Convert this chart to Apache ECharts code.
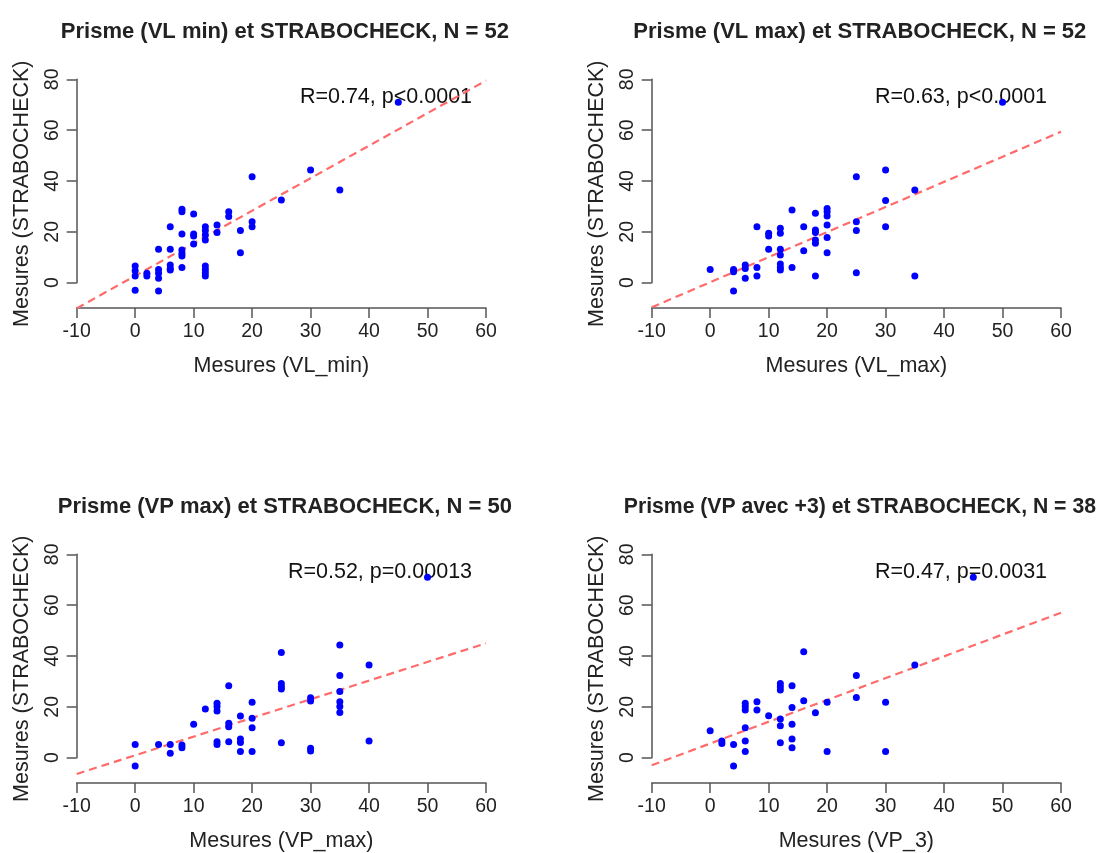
<!DOCTYPE html>
<html>
<head>
<meta charset="utf-8">
<script src="https://cdn.jsdelivr.net/npm/echarts@6/dist/echarts.min.js"></script>
<style>
html,body{margin:0;padding:0;background:#fff;}
#chart{width:1102px;height:853px;}
</style>
</head>
<body>
<div id="chart"></div>
<script>
// ---------- DATA ----------
const titles = [
  'Prisme (VL min) et STRABOCHECK, N = 52',
  'Prisme (VL max) et STRABOCHECK, N = 52',
  'Prisme (VP max) et STRABOCHECK, N = 50',
  'Prisme (VP avec +3) et STRABOCHECK, N = 38'
];
const xNames = ['Mesures (VL_min)', 'Mesures (VL_max)', 'Mesures (VP_max)', 'Mesures (VP_3)'];
const yName = 'Mesures (STRABOCHECK)';
const annotations = ['R=0.74, p<0.0001', 'R=0.63, p<0.0001', 'R=0.52, p=0.00013', 'R=0.47, p=0.0031'];
const annotationPos = [57.7, 73.2];

const xTicks = {min: -10, max: 60, step: 10};
const yTicks = {min: 0, max: 80, step: 20};
const yRange = {min: -10, max: 80};

const vlMinX = [0,0,0,0, 2,2, 4,4,4,4,4, 6,6,6,6,6, 8,8,8,8,8,8,8, 10,10,10,10, 12,12,12,12,12,12,12,12, 14,14, 16,16, 18,18, 20,20,20, 25, 30, 35, 45];
const vlMinY = [-3,6.6,4.7,2.6, 3.7,2.6, 5.2,3.7,1.7,-3.3,13.1, 13.1,22,7,5.6,5, 28.9,27.9,19.1,12.9,11.5,10.5,6, 27,19.1,18.4,15.2, 22,20.5,18.8,16.8,6.6,5.2,3.9,2.6, 22.7,19.7, 27.9,26, 20.5,11.8, 41.7,24,22, 32.5, 44.3, 36.5, 71];

const vlMaxX = [0, 4,4,4, 6,6,6, 8,8,8, 10,10,10, 12,12,12,12,12,12,12, 14,14, 16,16, 18,18,18,18,18,18, 20,20,20,20,20,20, 25,25,25,25, 30,30,30, 35,35, 50];
const vlMaxY = [5.2, 5.2,4.3,-3.3, 7,5.6,1.7, 6,2.6,22, 19.4,18.4,13.1, 21.4,19.4,13.1,10.9,7.3,6,5, 28.6,6, 22,12.6, 27.3,20.7,19.7,16.8,15.5,2.6, 29.2,27.9,26.2,22.7,17.8,11.8, 41.7,24,20.5,3.9, 44.3,32.3,22, 36.5,2.6, 71];

const vpMaxX = [0,0, 4, 6,6, 8,8, 10, 12, 14,14,14,14,14, 16,16,16,16, 18,18,18,18, 20,20,20,20, 25,25,25,25,25, 30,30,30,30, 35,35,35,35,35,35, 40,40, 50];
const vpMaxY = [5.2,-3.3, 5.2, 5.2,1.7, 5,3.9, 13.1, 19.1, 21.4,20.1,18.4,6.3,5.2, 28.3,13.5,12.2,6.3, 16.4,7.3,6,2.4, 21.8,15.5,11.8,2.4, 41.4,29.2,27.9,27,5.9, 23.6,22.3,3.7,2.6, 44.3,32.3,26,22,20.1,17.8, 36.5,6.6, 71];

const vp3X = [0, 2,2, 4,4, 6,6,6,6,6,6, 8,8, 10, 12,12,12,12,12,12, 14,14,14,14,14, 16,16, 18, 20,20, 25,25, 30,30, 35, 45];
const vp3Y = [10.6, 6.6,5.6, 5.2,-3.3, 11.8,21.4,20.1,18.8,6.6,2.4, 22,18.8, 16.5, 29.2,27.9,26.6,15.2,12.6,5.9, 28.3,19.7,13.1,7.3,3.9, 41.7,22.4, 17.7, 21.8,2.4, 32.3,23.7, 21.8,2.4, 36.5, 71];

// regression line end points: [x0, y0, x1, y1]
const fitVlMin = [-10, -10.1, 60, 79.5];
const fitVlMax = [-10, -9.7, 60, 59.4];
const fitVpMax = [-10, -6.4, 60, 45];
const fitVp3   = [-10, -3.0, 60, 57.0];

// ---------- LAYOUT / STYLE ----------
const panels = [
  {x: vlMinX, y: vlMinY, fit: fitVlMin},
  {x: vlMaxX, y: vlMaxY, fit: fitVlMax},
  {x: vpMaxX, y: vpMaxY, fit: fitVpMax},
  {x: vp3X,   y: vp3Y,   fit: fitVp3}
];
const colLeft = [76.7, 651.7];
const rowTop = [79.3, 554.3];
const plotW = 409.3;
const plotH = 228.8;      // y from -10 to 80
const titleSizes = [22, 22, 22, 21.2];
const FONT = 'Liberation Sans, Arial, sans-serif';
const TXT = '#222';
const AX = '#555';

const grid = [], xAxis = [], yAxis = [], series = [], title = [];

panels.forEach((p, i) => {
  const left = colLeft[i % 2];
  const top = rowTop[Math.floor(i / 2)];
  const yAxisH = plotH * (yTicks.max - yTicks.min) / (yRange.max - yRange.min);
  const g = grid.length;
  grid.push({left: left, top: top, width: plotW, height: plotH, containLabel: false, outerBoundsMode: 'none'});
  grid.push({left: left, top: top, width: plotW, height: yAxisH, containLabel: false, outerBoundsMode: 'none'});

  xAxis.push({
    gridIndex: g, type: 'value', min: xTicks.min, max: xTicks.max, interval: xTicks.step,
    axisLine: {show: true, onZero: false, lineStyle: {color: AX, width: 1.5}},
    axisTick: {show: true, length: 10, lineStyle: {color: AX, width: 1.5}},
    axisLabel: {fontSize: 19.5, color: TXT, margin: 14, fontFamily: FONT},
    splitLine: {show: false},
    name: xNames[i], nameLocation: 'middle', nameGap: 47,
    nameTextStyle: {fontSize: 21.5, color: TXT, fontFamily: FONT}
  });
  yAxis.push({
    gridIndex: g, type: 'value', min: yRange.min, max: yRange.max,
    axisLine: {show: false}, axisTick: {show: false}, axisLabel: {show: false},
    splitLine: {show: false},
    name: yName, nameLocation: 'middle', nameGap: 44,
    nameTextStyle: {fontSize: 21.5, color: TXT, fontFamily: FONT}
  });
  xAxis.push({gridIndex: g + 1, type: 'value', min: xTicks.min, max: xTicks.max, show: false});
  yAxis.push({
    gridIndex: g + 1, type: 'value', min: yTicks.min, max: yTicks.max, interval: yTicks.step,
    axisLine: {show: true, onZero: false, lineStyle: {color: AX, width: 1.5}},
    axisTick: {show: true, length: 10, lineStyle: {color: AX, width: 1.5}},
    axisLabel: {fontSize: 19.5, color: TXT, margin: 14, rotate: 90, fontFamily: FONT},
    splitLine: {show: false}
  });

  series.push({
    type: 'scatter', xAxisIndex: g, yAxisIndex: g, silent: true,
    data: [annotationPos], symbolSize: 1,
    itemStyle: {color: 'rgba(0,0,0,0)'},
    label: {show: true, position: 'left', distance: 0, formatter: annotations[i],
            fontSize: 21.5, color: '#111', opacity: 1, fontFamily: FONT},
    z: 1
  });
  series.push({
    type: 'line', xAxisIndex: g, yAxisIndex: g, silent: true,
    data: [[p.fit[0], p.fit[1]], [p.fit[2], p.fit[3]]],
    symbol: 'none', lineStyle: {color: '#ff6a6a', width: 2.2, type: [8, 5]},
    z: 2
  });
  series.push({
    type: 'scatter', xAxisIndex: g, yAxisIndex: g, silent: true,
    data: p.x.map((v, k) => [v, p.y[k]]),
    symbolSize: 7, itemStyle: {color: '#0000ff', opacity: 1},
    z: 3
  });

  title.push({
    text: titles[i], left: left + plotW / 2 - 1.5, top: top - 63, textAlign: 'center',
    textStyle: {fontSize: titleSizes[i], fontWeight: 'bold', color: TXT, fontFamily: FONT}
  });
});

const chart = echarts.init(document.getElementById('chart'), null, {renderer: 'canvas'});
chart.setOption({
  animation: false,
  backgroundColor: '#fff',
  textStyle: {fontFamily: FONT},
  title: title, grid: grid, xAxis: xAxis, yAxis: yAxis, series: series
});
</script>
</body>
</html>
